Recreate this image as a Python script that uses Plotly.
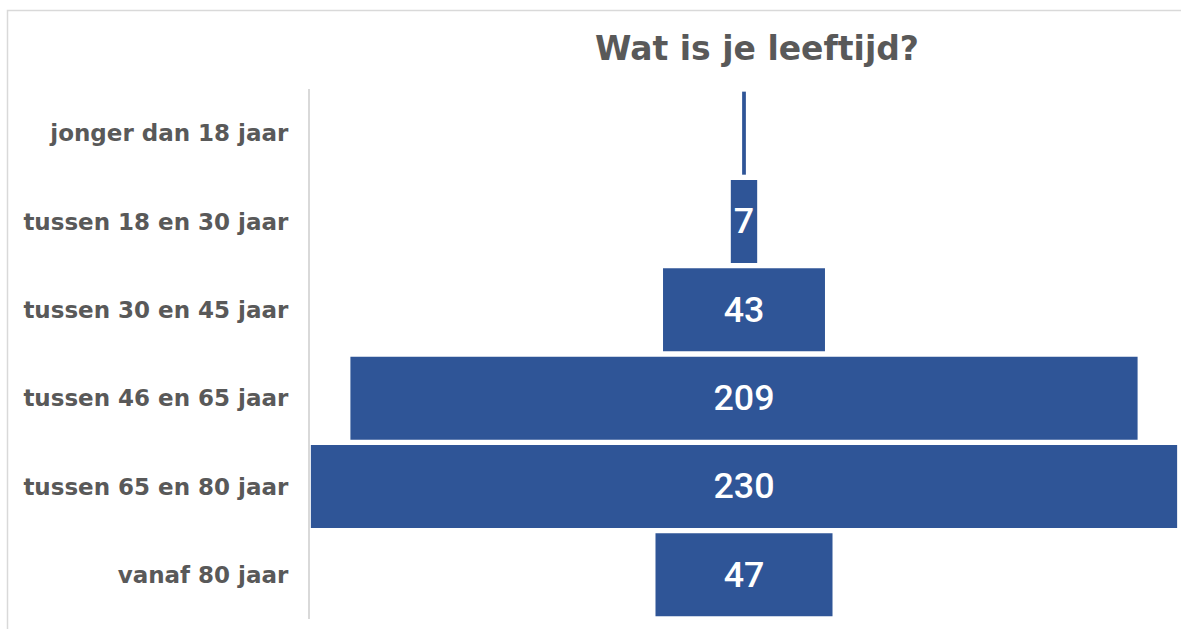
import plotly.graph_objects as go

# Age groups, top to bottom, and number of respondents per group
age_groups = [
    "jonger dan 18 jaar",
    "tussen 18 en 30 jaar",
    "tussen 30 en 45 jaar",
    "tussen 46 en 65 jaar",
    "tussen 65 en 80 jaar",
    "vanaf 80 jaar",
]
respondents = [1, 7, 43, 209, 230, 47]

title_text = "Wat is je leeftijd?"

BAR_COLOR = "#2F5597"
TEXT_GRAY = "#595959"
LINE_GRAY = "#D9D9D9"
LABEL_FONT = "DejaVu Sans"
VALUE_FONT = "Roboto"

W, H = 1181, 629
ML, MR, MT, MB = 310, 3, 89, 10
plot_w = W - ML - MR
plot_h = H - MT - MB

fig = go.Figure(
    go.Funnel(
        y=age_groups,
        x=respondents,
        marker=dict(color=BAR_COLOR, line=dict(width=0)),
        connector=dict(visible=False),
        textinfo="value",
        textposition="inside",
        insidetextfont=dict(family=VALUE_FONT, size=36, color="white", weight=500),
        hoverinfo="y+x",
    )
)

half = max(respondents) / 2

fig.update_layout(
    width=W,
    height=H,
    margin=dict(l=ML, r=MR, t=MT, b=MB),
    paper_bgcolor="white",
    plot_bgcolor="white",
    funnelgap=0.06,
    showlegend=False,
    uniformtext=dict(minsize=30, mode="hide"),
    title=dict(
        text=title_text,
        font=dict(family=LABEL_FONT, size=33, color=TEXT_GRAY, weight="bold"),
        x=(757 - ML) / plot_w,
        xref="paper",
        xanchor="center",
        y=1 - 48 / H,
        yref="container",
        yanchor="middle",
    ),
    xaxis=dict(
        range=[-half * 1.002, half * 1.002],
        visible=False,
        fixedrange=True,
    ),
    yaxis=dict(
        type="category",
        autorange="reversed",
        showline=True,
        linecolor=LINE_GRAY,
        linewidth=2,
        showgrid=False,
        ticks="",
        ticklabelstandoff=15,
        tickfont=dict(family=LABEL_FONT, size=23, color=TEXT_GRAY, weight="bold"),
    ),
    shapes=[
        # outer chart-area border (top and left edges fall inside the page)
        dict(
            type="rect",
            xref="paper",
            yref="paper",
            x0=(7.5 - ML) / plot_w,
            x1=1 + 20 / plot_w,
            y0=-20 / plot_h,
            y1=1 + (MT - 10.5) / plot_h,
            line=dict(color=LINE_GRAY, width=1.5),
            layer="below",
        )
    ],
)

fig.write_html("out.html")
